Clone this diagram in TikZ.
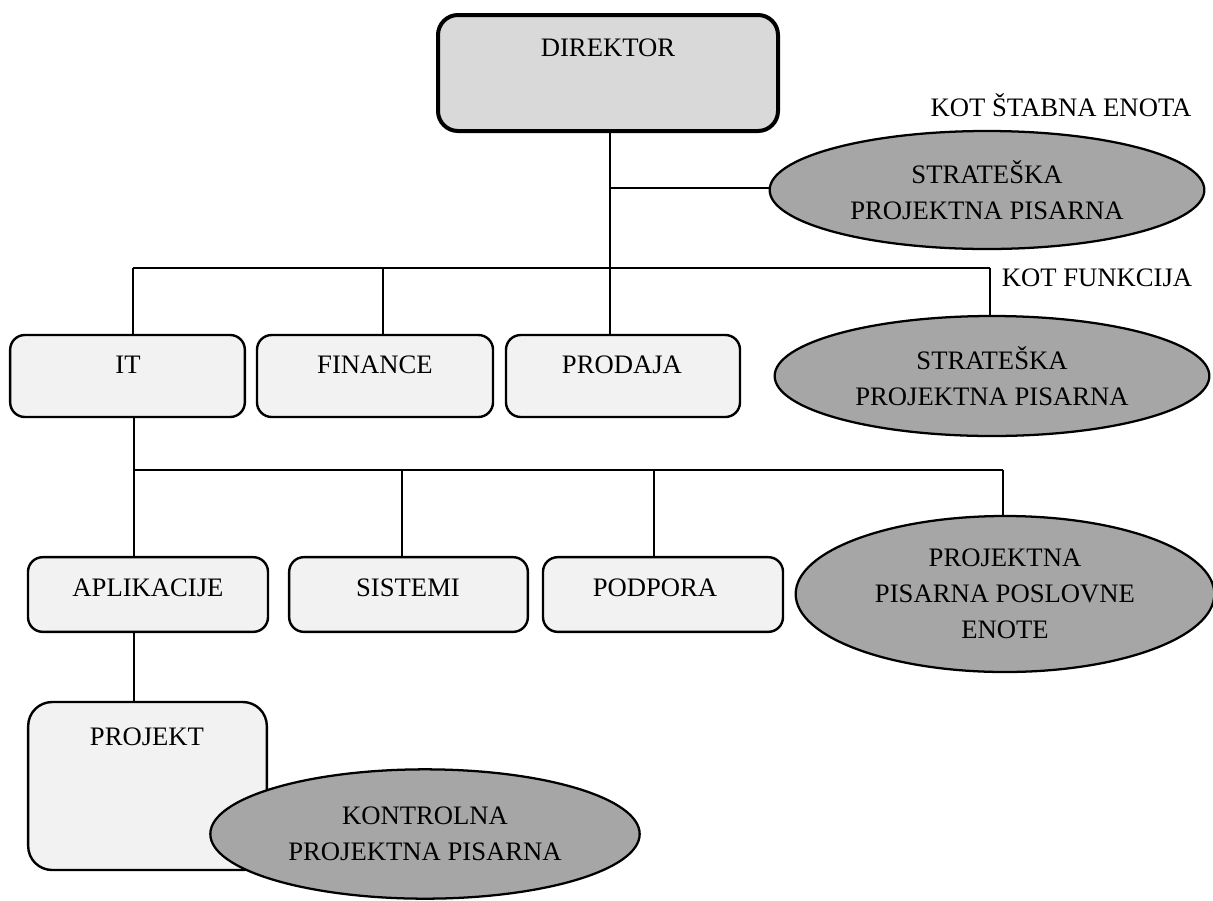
\documentclass[tikz,border=0pt]{standalone}
\usepackage{fontspec}
\setmainfont{Liberation Serif}
\usetikzlibrary{shapes.geometric}
\definecolor{dirfill}{HTML}{D9D9D9}
\definecolor{boxfill}{HTML}{F2F2F2}
\definecolor{pmofill}{HTML}{A6A6A6}
\tikzset{
  lbl/.style={font=\fontsize{20}{27}\selectfont, inner sep=0pt, align=center},
  dirbox/.style={draw, line width=3pt, fill=dirfill, rounded corners=15pt, inner sep=0pt},
  unitbox/.style={draw, line width=1.8pt, fill=boxfill, rounded corners=11pt, inner sep=0pt},
  pmo/.style={ellipse, draw, line width=1.7pt, fill=pmofill, inner sep=0pt, align=center, font=\fontsize{20}{27}\selectfont},
  conn/.style={line width=1.5pt}
}
\begin{document}
\begin{tikzpicture}[x=0.75pt,y=-0.75pt]
\useasboundingbox (0,0) rectangle (1213,900);
% director
\node[dirbox, minimum width=255pt, minimum height=87pt] (dir) at (608,73) {};
\node[lbl] (dirt) at (608,48) {DIREKTOR};
\node[lbl] (kot1) at (1061,105) {KOT ŠTABNA ENOTA};
\node[pmo, minimum width=326pt, minimum height=88.5pt] (ell1) at (987,190) {STRATEŠKA\\PROJEKTNA PISARNA};
% level 2
\node[unitbox, minimum width=176pt, minimum height=61.5pt] (it) at (127.5,376) {};
\node[lbl] (itt) at (128,365) {IT};
\node[unitbox, minimum width=177pt, minimum height=61.5pt] (fin) at (375,376) {};
\node[lbl] (fint) at (375,365) {FINANCE};
\node[unitbox, minimum width=175.5pt, minimum height=61.5pt] (pro) at (623,376) {};
\node[lbl] (prot) at (622,365) {PRODAJA};
\node[lbl] (kot2) at (1097,278) {KOT FUNKCIJA};
\node[pmo, minimum width=326pt, minimum height=90pt] (ell2) at (992,376) {STRATEŠKA\\PROJEKTNA PISARNA};
% level 3
\node[unitbox, minimum width=180pt, minimum height=56pt] (apl) at (148,594.5) {};
\node[lbl] (aplt) at (148,588) {APLIKACIJE};
\node[unitbox, minimum width=179pt, minimum height=56pt] (sis) at (408.5,594.5) {};
\node[lbl] (sist) at (408,588) {SISTEMI};
\node[unitbox, minimum width=180pt, minimum height=56pt] (pod) at (663,594.5) {};
\node[lbl] (podt) at (655,588) {PODPORA};
\node[pmo, minimum width=314pt, minimum height=117pt] (ell3) at (1005,594) {PROJEKTNA\\PISARNA POSLOVNE\\ENOTE};
% level 4
\node[unitbox, minimum width=179pt, minimum height=126pt, rounded corners=18pt] (proj) at (147.5,786) {};
\node[lbl] (projt) at (147,737) {PROJEKT};
\node[pmo, minimum width=322pt, minimum height=97pt] (ell4) at (425,834) {KONTROLNA\\PROJEKTNA PISARNA};
% connector coordinates
\coordinate (v0) at (610,268);
\coordinate (b1) at (610,188);
\coordinate (h1l) at (133,268);
\coordinate (h1f) at (383,268);
\coordinate (h1r) at (990,268);
\coordinate (h2l) at (134,470);
\coordinate (h2s) at (402,470);
\coordinate (h2p) at (654,470);
\coordinate (h2r) at (1003,470);
% connectors
\draw[conn] (dir.south -| v0) -- (v0);
\draw[conn] (b1) -- (b1 -| ell1.west);
\draw[conn] (h1l) -- (h1r);
\draw[conn] (h1l) -- (h1l |- it.north);
\draw[conn] (h1f) -- (h1f |- fin.north);
\draw[conn] (v0) -- (v0 |- pro.north);
\draw[conn] (h1r) -- (h1r |- ell2.north);
\draw[conn] (h2l |- it.south) -- (h2l);
\draw[conn] (h2l) -- (h2r);
\draw[conn] (h2l) -- (h2l |- apl.north);
\draw[conn] (h2s) -- (h2s |- sis.north);
\draw[conn] (h2p) -- (h2p |- pod.north);
\draw[conn] (h2r) -- (h2r |- ell3.north);
\draw[conn] (h2l |- apl.south) -- (h2l |- proj.north);
\end{tikzpicture}
\end{document}
